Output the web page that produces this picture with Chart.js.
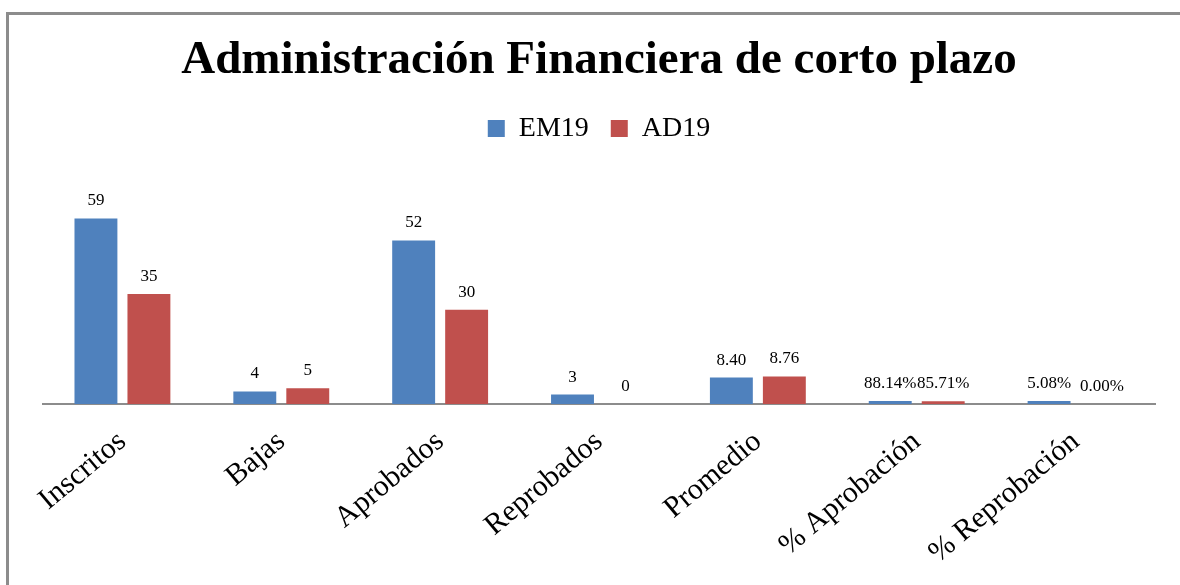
<!DOCTYPE html>
<html lang="es">
<head>
<meta charset="utf-8">
<title>Administración Financiera de corto plazo</title>
<script src="https://cdn.jsdelivr.net/npm/chart.js@4.4.1/dist/chart.umd.min.js"></script>
<style>
  html, body { margin: 0; padding: 0; background: #fff; overflow: hidden; }
  #frame { position: absolute; left: 6px; top: 12px; width: 1200px; height: 600px;
           border-left: 3px solid #8c8c8c; border-top: 3px solid #8c8c8c; }
  #wrap { position: absolute; left: 0; top: 0; width: 1180px; height: 585px; }
</style>
</head>
<body>
<div id="frame"></div>
<div id="wrap"><canvas id="chart"></canvas></div>
<script>
// datos del gráfico
const categories = ['Inscritos', 'Bajas', 'Aprobados', 'Reprobados', 'Promedio', '% Aprobación', '% Reprobación'];
const em19 = [59, 4, 52, 3, 8.40, 0.8814, 0.0508];
const ad19 = [35, 5, 30, 0, 8.76, 0.8571, 0.00];
// cómo se muestra cada etiqueta: entero, decimal o porcentaje
const labelFormats = ['int', 'int', 'int', 'int', 'dec', 'pct', 'pct'];

const SERIF = '"Liberation Serif", "Times New Roman", serif';

function formatValue(v, i) {
  const f = labelFormats[i];
  if (f === 'pct') return (v * 100).toFixed(2) + '%';
  if (f === 'dec') return v.toFixed(2);
  return String(Math.round(v));
}

// etiquetas de valor encima de cada barra
const barLabels = {
  id: 'barLabels',
  afterDatasetsDraw(chart) {
    const ctx = chart.ctx;
    ctx.save();
    ctx.font = '17px ' + SERIF;
    ctx.fillStyle = '#000';
    ctx.textAlign = 'center';
    ctx.textBaseline = 'alphabetic';
    chart.data.datasets.forEach((ds, i) => {
      const meta = chart.getDatasetMeta(i);
      meta.data.forEach((bar, j) => {
        ctx.fillText(formatValue(ds.data[j], j), bar.x, bar.y - 13);
      });
    });
    ctx.restore();
  }
};

new Chart(document.getElementById('chart'), {
  type: 'bar',
  data: {
    labels: categories,
    datasets: [
      {
        label: 'EM19',
        data: em19,
        backgroundColor: '#4f81bd',
        minBarLength: 3,
        categoryPercentage: 0.667,
        barPercentage: 0.81
      },
      {
        label: 'AD19',
        data: ad19,
        backgroundColor: '#c0504d',
        categoryPercentage: 0.667,
        barPercentage: 0.81
      }
    ]
  },
  options: {
    responsive: true,
    maintainAspectRatio: false,
    animation: false,
    layout: { padding: { left: 43, right: 25, top: 0, bottom: 2 } },
    plugins: {
      title: {
        display: true,
        text: 'Administración Financiera de corto plazo',
        color: '#000',
        font: { family: SERIF, size: 47, weight: 'bold' },
        padding: { top: 33, bottom: 3 }
      },
      legend: {
        position: 'top',
        labels: {
          color: '#000',
          font: { family: SERIF, size: 28 },
          boxWidth: 17,
          boxHeight: 17,
          padding: 22
        }
      },
      tooltip: { enabled: false }
    },
    scales: {
      x: {
        grid: { display: false },
        border: { display: true, color: '#8c8c8c', width: 2 },
        ticks: {
          color: '#000',
          font: { family: SERIF, size: 30 },
          maxRotation: 40,
          minRotation: 40,
          autoSkip: false,
          padding: 12
        }
      },
      y: {
        display: false,
        min: 0,
        max: 80
      }
    }
  },
  plugins: [barLabels]
});
</script>
</body>
</html>
